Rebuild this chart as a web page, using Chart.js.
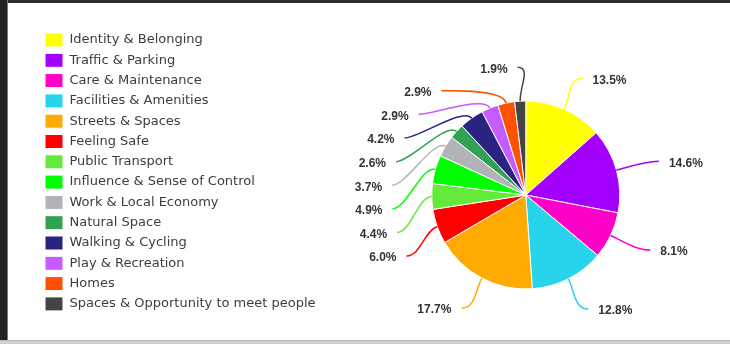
<!DOCTYPE html>
<html>
<head>
<meta charset="utf-8">
<script src="https://cdn.jsdelivr.net/npm/chart.js@4/dist/chart.umd.min.js"></script>
<style>
  html, body { margin: 0; padding: 0; background: #fff; }
  #wrap { position: relative; width: 730px; height: 344px; overflow: hidden; }
  #chartBox { position: absolute; left: 0; top: 0; width: 730px; height: 344px; }
  .band { position: absolute; z-index: 2; }
  #bandTop { left: 0; top: 0; width: 730px; height: 3px; background: #2c2c2c; }
  #bandLeft { left: 0; top: 0; width: 7px; height: 344px; background: #222; border-right: 1px solid #777; }
  #bandBottom { left: 0; bottom: 0; width: 730px; height: 3px; background: #d0d0d0; border-top: 1px solid #b8b8b8; }
</style>
</head>
<body>
<div id="wrap">
  <div id="chartBox"><canvas id="themesPie"></canvas></div>
  <div class="band" id="bandTop"></div>
  <div class="band" id="bandLeft"></div>
  <div class="band" id="bandBottom"></div>
</div>
<script>
const categories = [
  'Identity & Belonging',
  'Traffic & Parking',
  'Care & Maintenance',
  'Facilities & Amenities',
  'Streets & Spaces',
  'Feeling Safe',
  'Public Transport',
  'Influence & Sense of Control',
  'Work & Local Economy',
  'Natural Space',
  'Walking & Cycling',
  'Play & Recreation',
  'Homes',
  'Spaces & Opportunity to meet people'
];
const percentages = [13.5, 14.6, 8.1, 12.8, 17.7, 6.0, 4.4, 4.9, 3.7, 2.6, 4.2, 2.9, 2.9, 1.9];
const sliceColours = [
  '#ffff00', '#a200ff', '#ff00c8', '#27d4ec', '#ffaa00', '#ff0000', '#63ea3a',
  '#00ff00', '#b2b3b8', '#31a153', '#2b2380', '#c65cff', '#ff4f00', '#444444'
];

// percentage labels outside the pie, with curved leader lines
const outerLabels = {
  id: 'outerLabels',
  afterDatasetsDraw(chart) {
    const ctx = chart.ctx;
    const meta = chart.getDatasetMeta(0);
    const gap = 23.6;
    const items = meta.data.map((arc, i) => {
      const p = arc.getProps(['x', 'y', 'startAngle', 'endAngle', 'outerRadius'], true);
      const mid = (p.startAngle + p.endAngle) / 2;
      const dx = Math.cos(mid), dy = Math.sin(mid);
      const ry = p.outerRadius + 34;
      const ideal = p.y + dy * ry;
      return { i, cx: p.x, cy: p.y, r: p.outerRadius, dx, dy, ideal, y: ideal, left: dx < 0 };
    });

    [true, false].forEach(side => {
      const group = items.filter(it => it.left === side).sort((a, b) => a.ideal - b.ideal);
      let prev = -Infinity;
      group.forEach(it => {
        it.y = Math.max(it.ideal, prev + gap);
        prev = it.y;
      });
    });

    ctx.save();
    items.forEach(it => {
      let ex;
      if (it.y - it.ideal > 0.5) {
        const rx = it.r + 40;
        const off = it.y - it.cy;
        const w = Math.sqrt(Math.max(rx * rx - off * off, 0));
        ex = it.cx + (it.left ? -w : w);
      } else {
        ex = it.cx + it.dx * (it.r + 44);
      }
      const ey = it.y;
      const sx = it.cx + it.dx * it.r, sy = it.cy + it.dy * it.r;
      const h = it.left ? 1 : -1;

      ctx.beginPath();
      ctx.moveTo(sx, sy);
      ctx.bezierCurveTo(sx + it.dx * 14, sy + it.dy * 14, ex + h * 14, ey, ex, ey);
      ctx.strokeStyle = sliceColours[it.i];
      ctx.lineWidth = 1.5;
      ctx.stroke();

      ctx.fillStyle = '#333';
      ctx.font = 'bold 12px "Liberation Sans", Arial, sans-serif';
      ctx.textBaseline = 'middle';
      ctx.textAlign = it.left ? 'right' : 'left';
      const tx = it.left ? ex - 10 : ex + 10;
      ctx.fillText(percentages[it.i].toFixed(1) + '%', tx, ey + 2);
    });
    ctx.restore();
  }
};

const ctxPie = document.getElementById('themesPie').getContext('2d');
const themesPie = new Chart(ctxPie, {
  type: 'pie',
  data: {
    labels: categories,
    datasets: [{
      data: percentages,
      backgroundColor: sliceColours,
      borderColor: '#ffffff',
      borderWidth: 1,
      radius: 94
    }]
  },
  options: {
    responsive: true,
    maintainAspectRatio: false,
    animation: false,
    layout: {
      padding: { left: 38.7, top: 26.7, bottom: 0, right: 4 }
    },
    plugins: {
      title: {
        display: true,
        text: '',
        fullSize: false,
        font: { size: 10 },
        padding: { top: 0, bottom: 7.3 }
      },
      legend: {
        position: 'left',
        align: 'start',
        labels: {
          boxWidth: 18,
          boxHeight: 14,
          padding: 6.3,
          color: '#3d3d3d',
          font: { family: '"DejaVu Sans", sans-serif', size: 13 }
        }
      },
      tooltip: { enabled: false }
    }
  },
  plugins: [outerLabels]
});
</script>
</body>
</html>
